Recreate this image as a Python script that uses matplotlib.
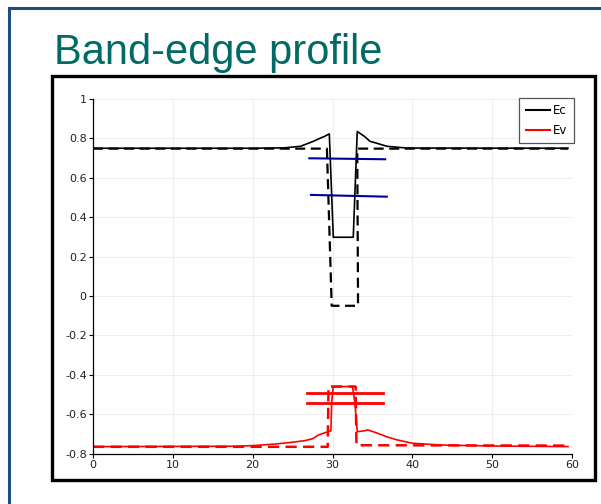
import matplotlib
matplotlib.use("Agg")
import matplotlib.pyplot as plt
from matplotlib.patches import Rectangle
from matplotlib.lines import Line2D

# ---- data ----
ec_x = [0, 20, 24, 26, 27.6, 28.4, 29.0, 29.6, 30.1, 32.6, 33.1, 34.0, 34.7, 35.5, 36.8, 39.3, 59.5]
ec_y = [0.75, 0.75, 0.752, 0.76, 0.785, 0.80, 0.81, 0.823, 0.298, 0.298, 0.835, 0.81, 0.785, 0.776, 0.76, 0.751, 0.75]

ec0_x = [0, 29.3, 29.9, 33.2, 33.1, 59.5]
ec0_y = [0.748, 0.748, -0.05, -0.05, 0.748, 0.748]

ev_x = [0, 18, 20, 22.8, 24.5, 26.5, 27.5, 28.3, 29.4, 29.8, 29.9, 30.1, 32.5, 32.8, 33.1, 34.0, 34.4,
        35.5, 36.8, 38.0, 40.0, 43.7, 50.0, 59.5]
ev_y = [-0.765, -0.763, -0.76, -0.752, -0.745, -0.735, -0.725, -0.705, -0.69, -0.685, -0.537, -0.46,
        -0.46, -0.54, -0.689, -0.685, -0.68, -0.695, -0.715, -0.73, -0.748, -0.757, -0.762, -0.765]

ev0_x = [0, 29.4, 29.5, 32.9, 33.0, 59.5]
ev0_y = [-0.766, -0.766, -0.46, -0.46, -0.758, -0.76]

lev_e_x = [[27.1, 36.6], [27.3, 36.8]]
lev_e_y = [[0.699, 0.694], [0.513, 0.504]]
lev_h_x = [[26.8, 36.3], [26.8, 36.3]]
lev_h_y = [[-0.494, -0.494], [-0.545, -0.545]]

x_ticks = [0, 10, 20, 30, 40, 50, 60]
y_ticks = [-0.8, -0.6, -0.4, -0.2, 0, 0.2, 0.4, 0.6, 0.8, 1]
y_labels = ["-0.8", "-0.6", "-0.4", "-0.2", "0", "0.2", "0.4", "0.6", "0.8", "1"]

W, H = 601, 504
fig = plt.figure(figsize=(W / 100, H / 100), dpi=100)
fig.patch.set_facecolor("white")

# slide border (dark blue)
fig.add_artist(Line2D([9 / W, 9 / W], [0, 1 - 8 / H], color="#1f4e79", lw=2.2))
fig.add_artist(Line2D([9 / W, 1], [1 - 8 / H, 1 - 8 / H], color="#1f4e79", lw=2.2))

# plot outer black frame
fig.add_artist(Rectangle((52 / W, 1 - 480 / H), (595 - 52) / W, (480 - 76) / H,
                         transform=fig.transFigure, fill=False, edgecolor="black", lw=2.4))

fig.text(54 / W, 1 - 64 / H, "Band-edge profile", color="#006b66",
         fontsize=30, family="Liberation Sans", ha="left", va="baseline")

ax = fig.add_axes([93 / W, 1 - 453.5 / H, (572 - 93) / W, (453.5 - 99) / H])
ax.set_xlim(0, 60)
ax.set_ylim(-0.8, 1.0)
for s in ["top", "right"]:
    ax.spines[s].set_visible(False)
for s in ["left", "bottom"]:
    ax.spines[s].set_linewidth(0.9)
ax.set_xticks(x_ticks)
ax.set_yticks(y_ticks)
ax.set_yticklabels(y_labels)
ax.tick_params(direction="out", length=3, width=0.8, pad=1.5, labelsize=8, labelcolor="#222222")
ax.grid(True, color="#eeeeee", lw=0.8)
ax.set_axisbelow(True)

ax.plot(ec0_x, ec0_y, color="black", lw=1.6, ls=(0, (4.5, 2.5)))
ax.plot(ec_x, ec_y, color="black", lw=1.2, label="Ec")
ax.plot(ev0_x, ev0_y, color="red", lw=1.8, ls=(0, (4.5, 2.5)))
ax.plot(ev_x, ev_y, color="red", lw=1.2, label="Ev")

for xs, ys in zip(lev_e_x, lev_e_y):
    ax.plot(xs, ys, color="#000099", lw=1.5)
for xs, ys in zip(lev_h_x, lev_h_y):
    ax.plot(xs, ys, color="red", lw=2.0)

handles = [Line2D([], [], color="black", lw=1.5), Line2D([], [], color="red", lw=1.5)]
leg = ax.legend(handles, ["Ec", "Ev"], loc="upper right", bbox_to_anchor=(1.004, 1.003),
                fancybox=False, framealpha=1, edgecolor="#555555", fontsize=8.5,
                handlelength=2.0, handletextpad=0.3, borderpad=0.55, labelspacing=0.55,
                borderaxespad=0)
leg.get_frame().set_linewidth(0.9)

fig.savefig("out.png", dpi=100)
